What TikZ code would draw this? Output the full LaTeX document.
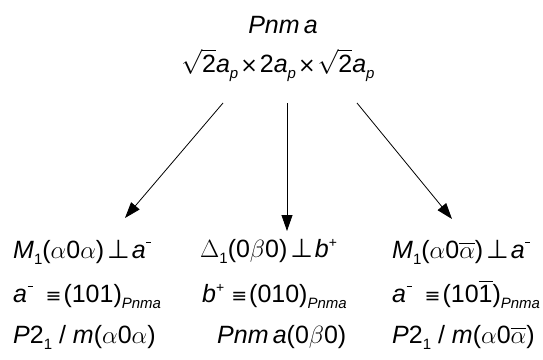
\documentclass[tikz,border=0pt]{standalone}
\usepackage{amsmath}
\usepackage{fontspec}
\setmainfont{Liberation Sans}
\newfontfamily\symf{DejaVu Sans}
\usetikzlibrary{arrows.meta}
\newcommand\iv[1]{\textit{#1}}
\newcommand\sbs[1]{\raisebox{-6pt}{\fontsize{15}{15}\selectfont #1}}
\newcommand\sps[1]{\raisebox{10pt}{\fontsize{14}{14}\selectfont #1}}
\newcommand\mneg{\hspace{0.5pt}\rule[15pt]{5pt}{1pt}}
\newcommand\perpsym{{\symf\fontsize{26}{26}\selectfont ⊥}}
\newcommand\eqvsym{{\symf\fontsize{19}{19}\selectfont ≡}}
\newcommand\timessym{{\symf\fontsize{21}{21}\selectfont ×}}
\begin{document}
\begin{tikzpicture}[x=1pt,y=-1pt,
  lbl/.style={inner sep=0pt,font=\fontsize{25}{29}\selectfont},
  arr/.style={line width=0.8pt,-{Triangle[length=16pt,width=11pt]}}]
\useasboundingbox (0,0) rectangle (543,359);
\node[lbl,anchor=base] (title) at (283,33) {\iv{Pnm\,a}};
\node[lbl,anchor=base] (cell) at (278,72) {$\sqrt{\text{2}}$\iv{a}\sbs{\iv{p}}\hspace{2pt}\timessym\hspace{2pt}2\iv{a}\sbs{\iv{p}}\hspace{2pt}\timessym\hspace{2pt}$\sqrt{\text{2}}$\iv{a}\sbs{\iv{p}}};
% row 1
\node[lbl,anchor=base west] (l1) at (13,258) {\iv{M}\sbs{1}($\alpha$0$\alpha$)\hspace{3pt}\perpsym\hspace{2pt}\iv{a}\mneg};
\node[lbl,anchor=base west] (m1) at (200,257) {$\Delta$\sbs{1}(0$\beta$0)\hspace{3pt}\perpsym\hspace{2pt}\iv{b}\sps{+}};
\node[lbl,anchor=base west] (r1) at (392,258) {\iv{M}\sbs{1}($\alpha$0$\overline{\alpha}$)\hspace{3pt}\perpsym\hspace{2pt}\iv{a}\mneg};
% row 2
\node[lbl,anchor=base west] (l2) at (13,302) {\iv{a}\mneg\hspace{13pt}\eqvsym\hspace{2pt}(101)\sbs{\iv{Pnma}}};
\node[lbl,anchor=base west] (m2) at (202,302) {\iv{b}\sps{+}\hspace{7pt}\eqvsym\hspace{2pt}(010)\sbs{\iv{Pnma}}};
\node[lbl,anchor=base west] (r2) at (392,302) {\iv{a}\mneg\hspace{13pt}\eqvsym\hspace{2pt}(10$\overline{\text{1}}$)\sbs{\iv{Pnma}}};
% row 3
\node[lbl,anchor=base west] (l3) at (13,343) {\iv{P}2\sbs{1} / \iv{m}($\alpha$0$\alpha$)};
\node[lbl,anchor=base west] (m3) at (217,343) {\iv{Pnm\,a}(0$\beta$0)};
\node[lbl,anchor=base west] (r3) at (392,343) {\iv{P}2\sbs{1} / \iv{m}($\alpha$0$\overline{\alpha}$)};
% arrows
\coordinate (s1) at (223,103);
\coordinate (s2) at (287,103);
\coordinate (s3) at (357,103);
\coordinate (e1) at (125,218);
\coordinate (e2) at (287,231);
\coordinate (e3) at (452,219);
\draw[arr] (s1) -- (e1);
\draw[arr] (s2) -- (e2);
\draw[arr] (s3) -- (e3);
\end{tikzpicture}
\end{document}
